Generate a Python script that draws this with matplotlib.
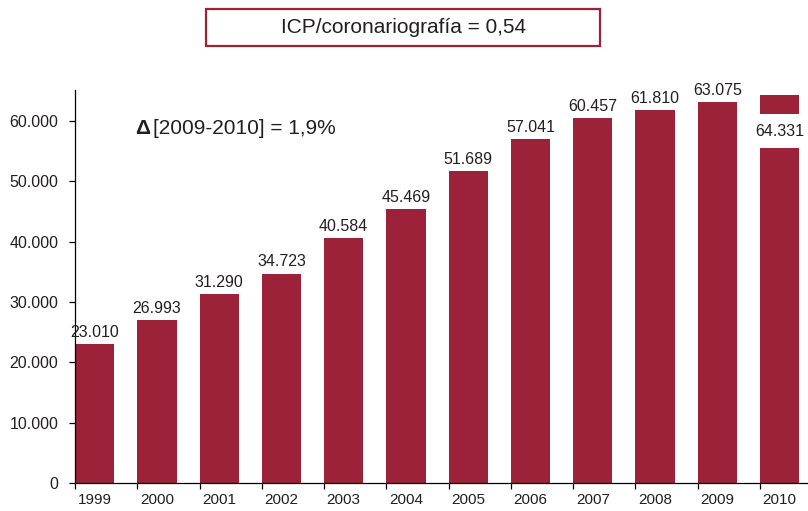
import numpy as np
import matplotlib.pyplot as plt
from matplotlib.patches import Rectangle

plt.rcParams['font.family'] = ['Liberation Sans', 'DejaVu Sans']

# data
jaren = ['1999', '2000', '2001', '2002', '2003', '2004',
         '2005', '2006', '2007', '2008', '2009', '2010']
icp = [23010, 26993, 31290, 34723, 40584, 45469,
       51689, 57041, 60457, 61810, 63075, 64331]
waarde_labels = ['23.010', '26.993', '31.290', '34.723', '40.584', '45.469',
                 '51.689', '57.041', '60.457', '61.810', '63.075', '64.331']
y_ticks = [0, 10000, 20000, 30000, 40000, 50000, 60000]
y_labels = ['0', '10.000', '20.000', '30.000', '40.000', '50.000', '60.000']

rood = '#9b2238'
tekst = '#231f20'

fig = plt.figure(figsize=(8.08, 5.11), dpi=100)
ax = fig.add_axes([75/808, 28/511, 733/808, 393/511])

x = np.arange(len(jaren))
breedte = 0.63
ax.bar(x, icp, width=breedte, align='edge', color=rood)

ax.set_xlim(0, 733/62.27)
ax.set_ylim(0, 65140)

# assen
for kant in ['top', 'right']:
    ax.spines[kant].set_visible(False)
for kant in ['left', 'bottom']:
    ax.spines[kant].set_linewidth(0.9)
    ax.spines[kant].set_color('black')

ax.set_yticks(y_ticks)
ax.set_yticklabels(y_labels, fontsize=11.5, color=tekst)
ax.tick_params(axis='y', length=4, pad=8, width=0.9)

ax.set_xticks(x)
ax.set_xticklabels([])
ax.tick_params(axis='x', which='major', length=4, width=0.9)
ax.set_xticks(x + breedte/2, minor=True)
ax.set_xticklabels(jaren, minor=True, fontsize=11, color=tekst)
ax.tick_params(axis='x', which='minor', length=0, pad=7)

# waarden boven de staven
for i, (v, lab) in enumerate(zip(icp, waarde_labels)):
    if i == len(icp) - 1:
        ax.text(i + breedte/2, 58300, lab, ha='center', va='center',
                fontsize=11.5, color=tekst,
                bbox=dict(facecolor='white', edgecolor='none', boxstyle='square,pad=0.6'))
    else:
        ax.annotate(lab, (i + breedte/2, v), xytext=(0, 3), textcoords='offset points',
                    ha='center', va='bottom', fontsize=11.5, color=tekst)

# delta tekst
ax.text(0.082, 0.903, 'Δ', fontsize=15, fontweight='bold', color=tekst,
        va='center', transform=ax.transAxes)
ax.text(0.1064, 0.903, '[2009-2010] = 1,9%', fontsize=15, color=tekst,
        va='center', transform=ax.transAxes)

# kader bovenaan
fig.add_artist(Rectangle((206/808, 465/511), 394/808, 37/511, transform=fig.transFigure,
                         fill=False, edgecolor=rood, linewidth=1.6))
fig.text(404/808, (511 - 27.5)/511, 'ICP/coronariografía = 0,54', ha='center', va='center',
         fontsize=15, color=tekst)

fig.savefig('out.png', dpi=100)
